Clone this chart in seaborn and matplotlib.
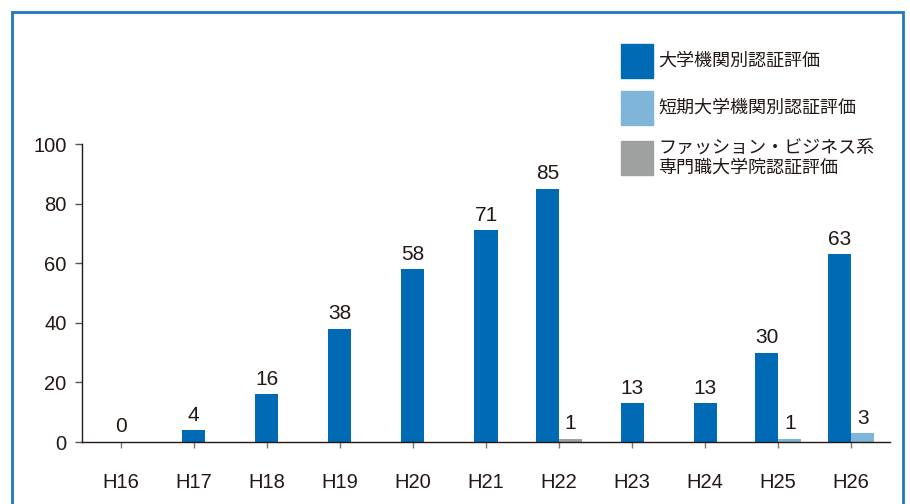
import matplotlib
matplotlib.use('Agg')
import matplotlib.pyplot as plt
from matplotlib.patches import Rectangle
import seaborn as sns
import pandas as pd

# data
years = ['H16', 'H17', 'H18', 'H19', 'H20', 'H21', 'H22', 'H23', 'H24', 'H25', 'H26']
univ = [0, 4, 16, 38, 58, 71, 85, 13, 13, 30, 63]
junior = [None, None, None, None, None, None, None, None, None, 1, 3]
fashion = [None, None, None, None, None, None, 1, None, None, None, None]

series_names = ['大学機関別認証評価', '短期大学機関別認証評価',
                'ファッション・ビジネス系\n専門職大学院認証評価']
colors = ['#006ab4', '#80b5da', '#9fa0a0']
text_col = '#231815'
num_font = 'Liberation Sans'

sns.set_theme(style='white')
plt.rcParams['font.family'] = ['Noto Sans CJK JP', 'DejaVu Sans']

fig = plt.figure(figsize=(9.1, 5.04), dpi=100)
W, H = 910, 504
ax = fig.add_axes([82 / W, 1 - 442 / H, (890 - 82) / W, (442 - 144) / H])

width = 0.315
df_main = pd.DataFrame({'year': years, 'value': univ})
sns.barplot(data=df_main, x='year', y='value', order=years, color=colors[0],
            width=width, ax=ax, saturation=1, errorbar=None, linewidth=0)
main_bars = list(ax.patches)

# categories with a second series: main bar shifts left, second bar right
second = []
for vals, col in [(junior, colors[1]), (fashion, colors[2])]:
    sub = pd.DataFrame({'year': years, 'value': vals}).dropna()
    n_before = len(ax.patches)
    sns.barplot(data=sub, x='year', y='value', order=years, color=col,
                width=width, ax=ax, saturation=1, errorbar=None, linewidth=0)
    new = ax.patches[n_before:]
    for p in new:
        if p.get_height() == p.get_height() and p.get_height() > 0:
            p.set_x(p.get_x() + width / 2)
            idx = int(round(p.get_x() + p.get_width() / 2 - width / 2))
            mb = main_bars[idx]
            mb.set_x(mb.get_x() - width / 2)
            second.append(p)

# value labels
for p in main_bars + second:
    h = p.get_height()
    if h != h:
        continue
    ax.annotate(f'{int(h)}', (p.get_x() + p.get_width() / 2, h),
                xytext=(0, 4), textcoords='offset points', ha='center',
                va='bottom', fontsize=15, color=text_col,
                family=num_font)

ax.set_xlim(-0.53, 10.53)
ax.set_ylim(0, 100)
ax.set_yticks([0, 20, 40, 60, 80, 100])
ax.set_xlabel('')
ax.set_ylabel('')
for s in ['top', 'right']:
    ax.spines[s].set_visible(False)
for s in ['left', 'bottom']:
    ax.spines[s].set_color(text_col)
    ax.spines[s].set_linewidth(1.0)
ax.tick_params(axis='y', direction='out', length=5, width=1, color='#555555',
               labelsize=14.5, labelcolor=text_col, pad=6, left=True)
ax.tick_params(axis='x', direction='out', length=4, width=1, color='#777777',
               labelsize=14.5, labelcolor=text_col, pad=18, bottom=True)
for t in ax.get_xticklabels() + ax.get_yticklabels():
    t.set_family(num_font)

# legend drawn as squares and text in figure pixels
leg_y = [61, 108, 158]
for name, col, y in zip(series_names, colors, leg_y):
    fig.patches.append(Rectangle((621 / W, 1 - (y + 17) / H), 32 / W, 34 / H,
                                 transform=fig.transFigure, color=col))
    fig.text(658 / W, 1 - y / H, name, fontsize=13, color=text_col,
             va='center', ha='left', linespacing=1.1)

# blue frame, bottom edge runs off the page
fig.patches.append(Rectangle((12 / W, -0.05), (903 - 12) / W, 1.05 - 12 / H,
                             transform=fig.transFigure, fill=False,
                             edgecolor='#1f78c1', linewidth=2))

fig.savefig('out.png', dpi=100)
